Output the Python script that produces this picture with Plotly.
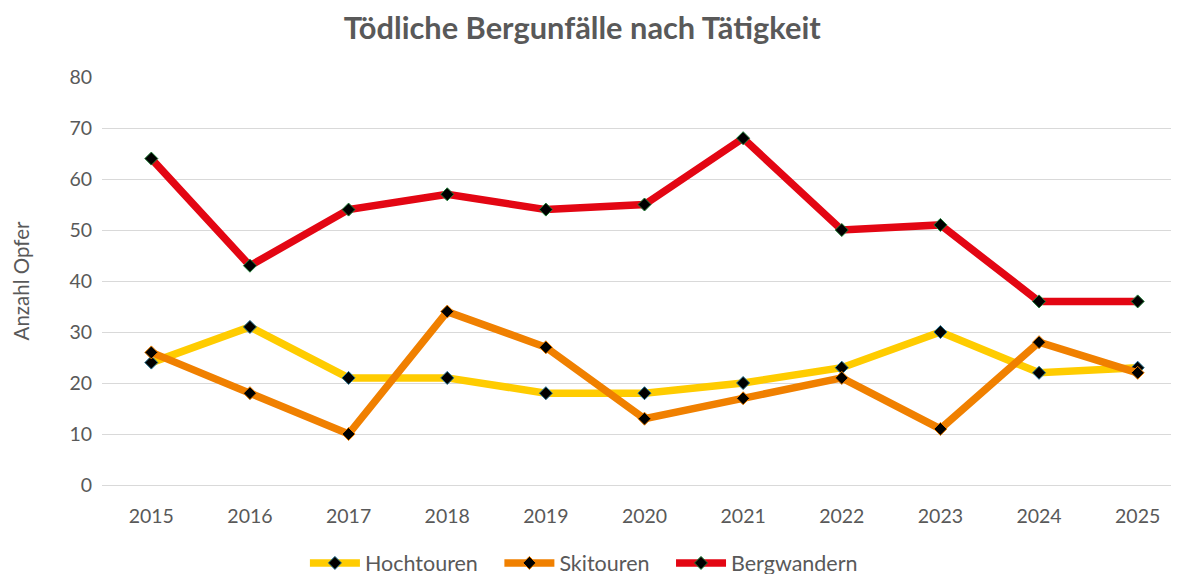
import plotly.graph_objects as go

years = ["2015", "2016", "2017", "2018", "2019", "2020", "2021", "2022", "2023", "2024", "2025"]
hochtouren = [24, 31, 21, 21, 18, 18, 20, 23, 30, 22, 23]
skitouren = [26, 18, 10, 34, 27, 13, 17, 21, 11, 28, 22]
bergwandern = [64, 43, 54, 57, 54, 55, 68, 50, 51, 36, 36]
y_ticks = [0, 10, 20, 30, 40, 50, 60, 70, 80]

series = [
    ("Hochtouren", hochtouren, "#FFCC00", "#1F6E8C"),
    ("Skitouren", skitouren, "#F08000", "#F08000"),
    ("Bergwandern", bergwandern, "#E30613", "#1E7B34"),
]

fig = go.Figure()
for name, vals, col, mline in series:
    fig.add_trace(go.Scatter(
        x=years, y=vals, name=name + "\u00a0\u00a0\u00a0", mode="lines+markers",
        line=dict(color=col, width=7.5),
        marker=dict(symbol="diamond", size=10, color="black",
                    line=dict(color=mline, width=1)),
    ))

grey = "#595959"
fig.update_layout(
    width=1179, height=574,
    paper_bgcolor="white", plot_bgcolor="white",
    font=dict(family="Lato, Open Sans, sans-serif", color=grey, size=19.5),
    title=dict(text="<b>Tödliche Bergunfälle nach Tätigkeit</b>", x=0.487, xanchor="center",
               y=0.965, yanchor="middle", font=dict(size=30.8, color=grey)),
    margin=dict(l=94, r=0, t=69, b=97, autoexpand=False),
    xaxis=dict(type="category", range=[-0.5, 10.5], showgrid=False, zeroline=False,
               showline=False, ticks="", automargin=False, ticklabelstandoff=17,
               tickfont=dict(size=19.5, color=grey)),
    yaxis=dict(range=[0, 80], tickvals=y_ticks, showgrid=True, gridcolor="#D9D9D9",
               gridwidth=1, zeroline=True, zerolinecolor="#D9D9D9", zerolinewidth=1,
               ticks="", automargin=False, tickfont=dict(size=19.5, color=grey),
               ticklabelstandoff=9,
               title=dict(text="Anzahl Opfer", font=dict(size=20.5, color=grey), standoff=34)),
    legend=dict(orientation="h", x=0.452, xanchor="center", y=-0.191, yanchor="middle",
                font=dict(size=21.5, color=grey), itemwidth=50, tracegroupgap=0,
                bgcolor="rgba(0,0,0,0)"),
    showlegend=True,
)

fig.write_html("out.html")
